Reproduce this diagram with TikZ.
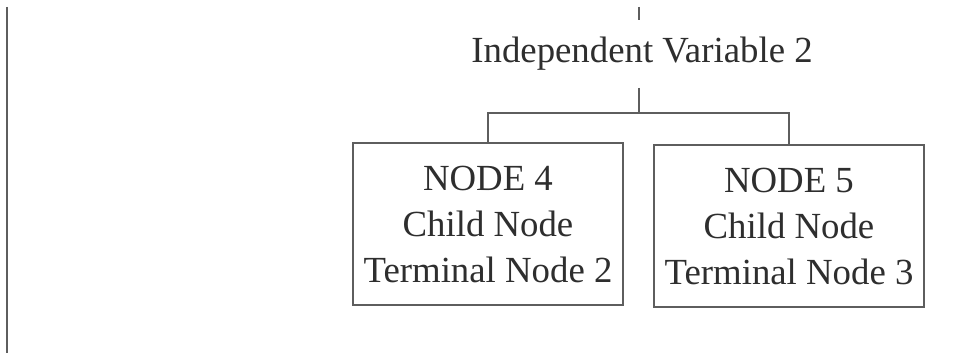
\documentclass[tikz,border=0pt]{standalone}
\usepackage{fontspec}
\setmainfont{Liberation Serif}
\definecolor{linegray}{HTML}{5E5E5E}
\definecolor{inkgray}{HTML}{2E2E2E}
\begin{document}
\begin{tikzpicture}[x=0.75pt,y=-0.75pt,
  treeline/.style={draw=linegray,line width=1.4pt},
  label/.style={text=inkgray,font=\fontsize{27.6}{34.5}\selectfont,inner sep=0pt},
  leafbox/.style={label,draw=linegray,line width=1.4pt,align=center,
    minimum width=202.5pt,minimum height=121.5pt,fill=white}]
  \useasboundingbox[fill=white] (0,0) rectangle (964,356);

  % left margin rule and the stub of the upper branch
  \coordinate (railtop) at (7,7);
  \coordinate (railbot) at (7,353);
  \draw[treeline] (railtop) -- (railbot);
  \coordinate (stubtop) at (639,7);
  \coordinate (stubbot) at (639,20);
  \draw[treeline] (stubtop) -- (stubbot);

  % split variable
  \node[label,anchor=base] (var) at (642,63) {Independent Variable 2};
  \coordinate (varfoot) at (639,88);
  \coordinate (split) at (639,113);

  % child nodes
  \node[leafbox] (n4) at (488,224) {NODE 4\\Child Node\\Terminal Node 2};
  \node[leafbox] (n5) at (789,226) {NODE 5\\Child Node\\Terminal Node 3};

  % connectors
  \draw[treeline] (varfoot) -- (split);
  \draw[treeline] (n4.north) |- (split) -| (n5.north);
\end{tikzpicture}
\end{document}
